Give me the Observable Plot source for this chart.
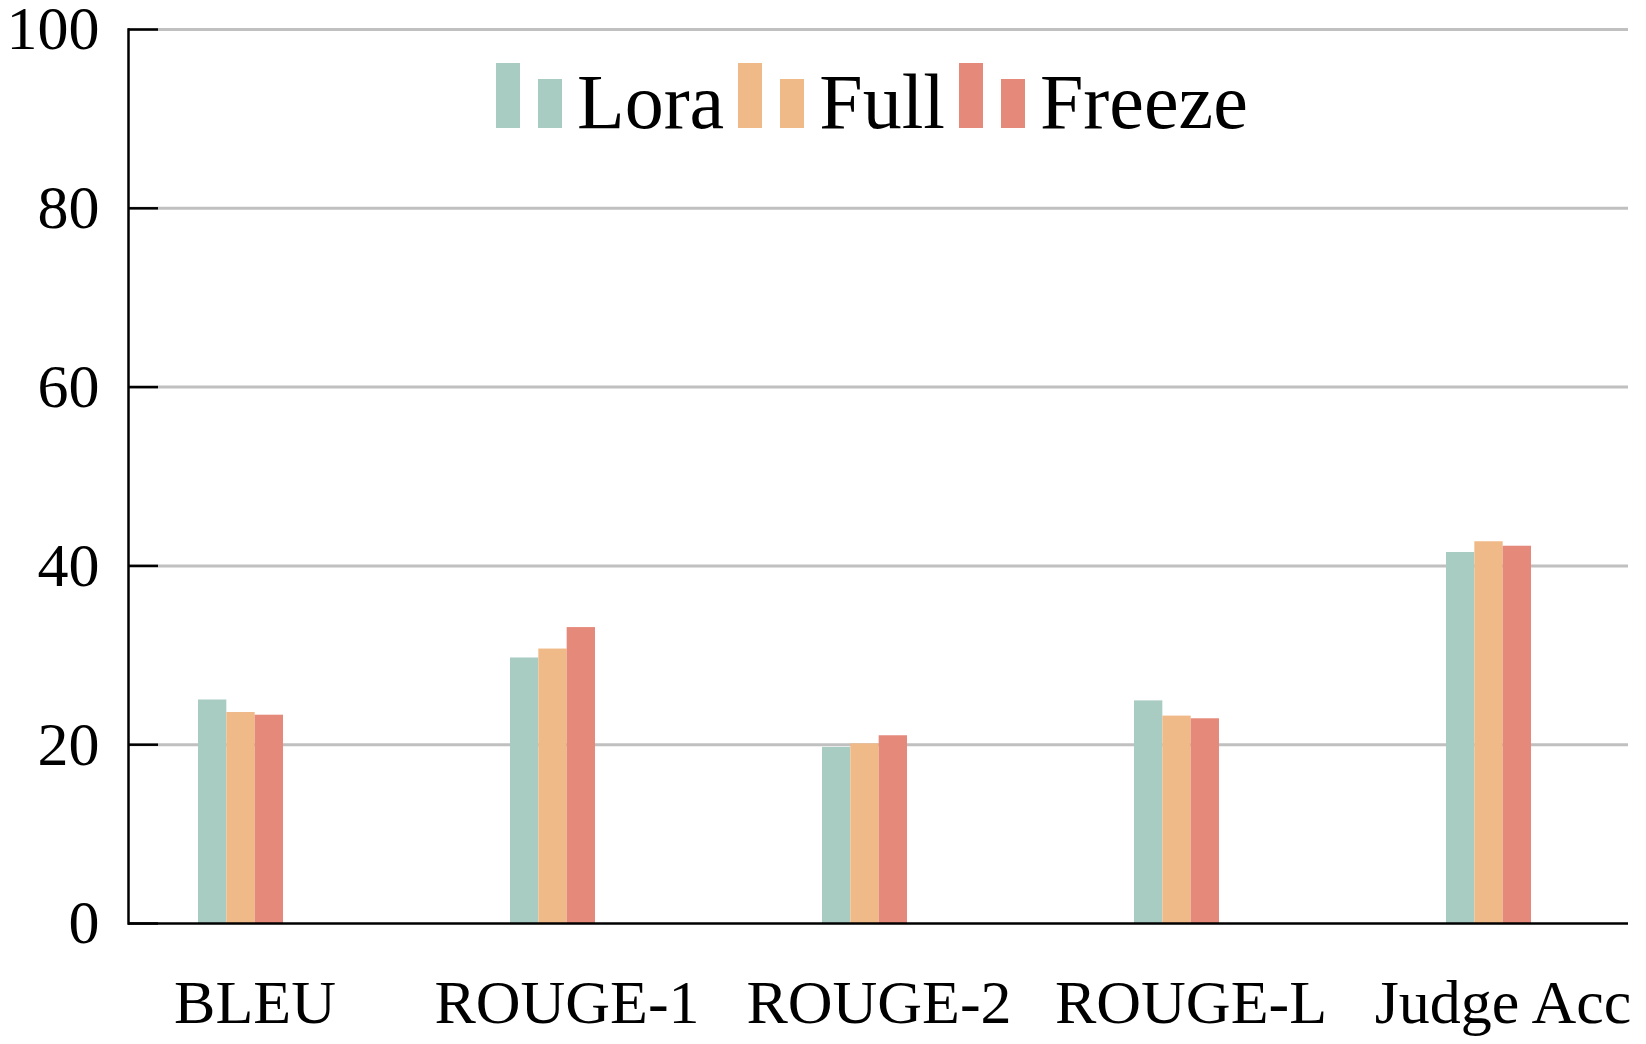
<!DOCTYPE html>
<html>
<head>
<meta charset="utf-8">
<script src="https://cdn.jsdelivr.net/npm/d3@7"></script>
<script src="https://cdn.jsdelivr.net/npm/@observablehq/plot@0.6"></script>
<style>
  html, body { margin: 0; padding: 0; background: white; }
  #wrap { position: relative; width: 1646px; height: 1044px; }
  #legend { position: absolute; left: 496px; top: 63px; display: flex; align-items: baseline;
            font-family: "Liberation Serif", serif; font-size: 78px; color: black; line-height: 1; }
  .item { display: flex; align-items: baseline; margin-right: 14px; }
  .sw { width: 24px; margin-bottom: 2px; }
  .sw.tall { height: 65px; margin-right: 18px; }
  .sw.short { height: 49px; margin-right: 15px; }
</style>
</head>
<body>
<div id="wrap"><div id="legend"></div></div>
<script>
const categories = ["BLEU", "ROUGE-1", "ROUGE-2", "ROUGE-L", "Judge Acc"];
const seriesNames = ["Lora", "Full", "Freeze"];
const loraValues = [25.0, 29.7, 19.7, 24.9, 41.5];
const fullValues = [23.6, 30.7, 20.1, 23.2, 42.7];
const freezeValues = [23.3, 33.1, 21.0, 22.9, 42.2];
const seriesColors = ["#a8cbc2", "#f0b988", "#e5897b"];
const yTicks = [0, 20, 40, 60, 80, 100];

const seriesValues = [loraValues, fullValues, freezeValues];
const rows = seriesNames.map((s, si) =>
  categories.map((c, ci) => ({category: c, series: s, value: seriesValues[si][ci]})));

const W = 1646, H = 1044;
const mL = 128, mR = 18, mT = 29, mB = 121;
const bandW = 85;                 // pixel width of a bar group
const barW = bandW / 3;
const step = (W - mL - mR) / 4.8;
const pInner = 1 - bandW / step;
const pOuter = (4.8 - 5 + pInner) / 2;

const barMarks = rows.map((data, si) => Plot.barY(data, {
  x: "category", y: "value", fill: seriesColors[si],
  insetLeft: si * barW, insetRight: (2 - si) * barW, dx: -14
}));

const chart = Plot.plot({
  width: W, height: H,
  marginLeft: mL, marginRight: mR, marginTop: mT, marginBottom: mB,
  style: {fontFamily: "Liberation Serif, serif", background: "white", color: "black", overflow: "visible"},
  x: {domain: categories, paddingInner: pInner, paddingOuter: pOuter, label: null},
  y: {domain: [0, 100], label: null},
  marks: [
    Plot.ruleY(yTicks.slice(1), {stroke: "#c0c0c0", strokeWidth: 3}),
    ...barMarks,
    Plot.ruleY(yTicks, {stroke: "black", strokeWidth: 2.5, insetRight: (W - mL - mR) - 30}),
    Plot.ruleY([0], {stroke: "black", strokeWidth: 2.5}),
    Plot.frame({anchor: "left", stroke: "black", strokeWidth: 2.5}),
    Plot.axisY(yTicks, {tickSize: 0, tickPadding: 29, fontSize: 62, label: null}),
    Plot.axisX({tickSize: 0, tickPadding: 55, fontSize: 62, label: null})
  ]
});
document.getElementById("wrap").prepend(chart);

const legend = document.getElementById("legend");
seriesNames.forEach((s, i) => {
  const item = document.createElement("div");
  item.className = "item";
  const t = document.createElement("div"); t.className = "sw tall"; t.style.background = seriesColors[i];
  const sh = document.createElement("div"); sh.className = "sw short"; sh.style.background = seriesColors[i];
  const label = document.createElement("span"); label.textContent = s;
  item.append(t, sh, label);
  legend.append(item);
});
</script>
</body>
</html>
